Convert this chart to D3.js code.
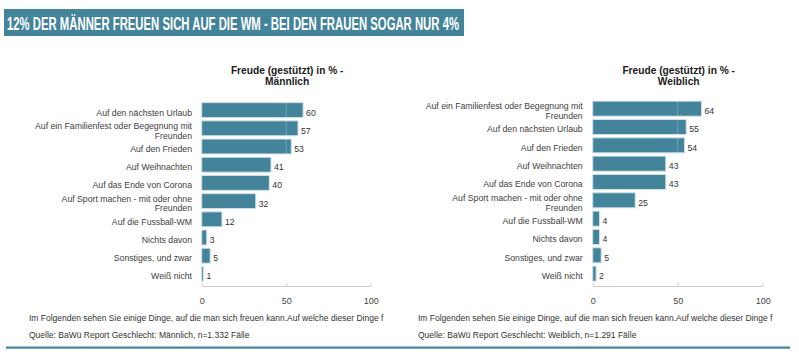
<!DOCTYPE html>
<html><head><meta charset="utf-8">
<script src="https://cdn.jsdelivr.net/npm/d3@7"></script>
<style>
html,body{margin:0;padding:0;background:#fff;}
svg{display:block;font-family:Arial,"Liberation Sans",sans-serif;}
</style></head>
<body>
<svg id="chart" width="799" height="356"></svg>
<script>
const pageTitle = "12% DER MÄNNER FREUEN SICH AUF DIE WM - BEI DEN FRAUEN SOGAR NUR 4%";

const maleTitle = ["Freude (gestützt) in % -", "Männlich"];
const maleCategories = ["Auf den nächsten Urlaub","Auf ein Familienfest oder Begegnung mit Freunden","Auf den Frieden","Auf Weihnachten","Auf das Ende von Corona","Auf Sport machen - mit oder ohne Freunden","Auf die Fussball-WM","Nichts davon","Sonstiges, und zwar","Weiß nicht"];
const maleValues = [60,57,53,41,40,32,12,3,5,1];
const maleSource = "Quelle: BaWü Report Geschlecht: Männlich, n=1.332 Fälle";

const femaleTitle = ["Freude (gestützt) in % -", "Weiblich"];
const femaleCategories = ["Auf ein Familienfest oder Begegnung mit Freunden","Auf den nächsten Urlaub","Auf den Frieden","Auf Weihnachten","Auf das Ende von Corona","Auf Sport machen - mit oder ohne Freunden","Auf die Fussball-WM","Nichts davon","Sonstiges, und zwar","Weiß nicht"];
const femaleValues = [64,55,54,43,43,25,4,4,5,2];
const femaleSource = "Quelle: BaWü Report Geschlecht: Weiblich, n=1.291 Fälle";

const tickValues = [0,50,100];
const questionText = "Im Folgenden sehen Sie einige Dinge, auf die man sich freuen kann.Auf welche dieser Dinge f";

const svg = d3.select("#chart");
const teal = "#44849a";

// Banner
svg.append("rect").attr("x",4).attr("y",9).attr("width",460).attr("height",27).attr("fill",teal);
svg.append("text").attr("x",7).attr("y",29.5)
  .attr("font-family","'Liberation Sans Narrow','Arial Narrow','Liberation Sans',Arial,sans-serif")
  .attr("font-weight","bold").attr("font-size",19).attr("fill","#fff")
  .attr("textLength",452).attr("lengthAdjust","spacingAndGlyphs")
  .text(pageTitle);

// bottom rule
svg.append("rect").attr("x",6).attr("y",346.5).attr("width",784).attr("height",2.2).attr("fill",teal);

function wrapLabel(textSel, str, maxW){
  const words = str.split(" ");
  let lines = [], cur = [];
  const tmp = textSel.append("tspan");
  words.forEach(w=>{
    cur.push(w);
    tmp.text(cur.join(" "));
    if (tmp.node().getComputedTextLength() > maxW && cur.length>1){
      cur.pop(); lines.push(cur.join(" ")); cur=[w];
    }
  });
  lines.push(cur.join(" "));
  tmp.remove();
  return lines;
}

function drawPanel(o){
  const g = svg.append("g");
  const x = d3.scaleLinear().domain([0,100]).range(o.xr);
  const y = d3.scaleBand().domain(o.cats).range(o.yr).paddingInner(0.18).paddingOuter(0.09);
  const cx = (o.xr[0]+o.xr[1])/2;

  // title
  o.title.forEach((s,i)=>g.append("text").attr("text-anchor","middle").attr("font-weight","bold")
    .attr("font-size",10.2).attr("fill","#1a1a1a")
    .attr("x",cx+1).attr("y",73.9+i*11).text(s));

  // bars
  g.selectAll("rect.bar").data(o.cats).join("rect").attr("class","bar")
    .attr("x",x(0)).attr("y",d=>y(d))
    .attr("width",(d,i)=>Math.max(0,x(o.vals[i])-x(0)))
    .attr("height",y.bandwidth())
    .attr("fill",teal).attr("stroke","#cfe2e9").attr("stroke-width",1);

  // faint grid line at 50
  g.append("line").attr("x1",x(50)).attr("x2",x(50)).attr("y1",o.yr[0]).attr("y2",o.axisY)
    .attr("stroke","#ffffff").attr("stroke-opacity",0.25).attr("stroke-width",1);

  // value labels
  g.selectAll("text.val").data(o.cats).join("text").attr("class","val")
    .attr("x",(d,i)=>x(o.vals[i])+3).attr("y",d=>y(d)+y.bandwidth()/2+5.5)
    .attr("font-size",8.7).attr("fill","#333").text((d,i)=>o.vals[i]);

  // category labels
  o.cats.forEach(c=>{
    const tx = g.append("text").attr("text-anchor","end").attr("font-size",8.7).attr("fill","#404040");
    const lines = wrapLabel(tx, c, 160);
    const yc = y(c)+y.bandwidth()/2+2.5;
    const lh = 9.4;
    const y0 = yc - (lines.length-1)*lh/2 + 3;
    lines.forEach((l,i)=>tx.append("tspan").attr("x",o.labelX).attr("y",y0+i*lh).text(l));
  });

  // axis
  const axis = d3.axisBottom(x).tickValues(tickValues).tickSize(-3).tickPadding(10).tickSizeOuter(0);
  const ag = g.append("g").attr("transform",`translate(0,${o.axisY})`).call(axis);
  ag.select(".domain").attr("stroke","#cccccc");
  ag.selectAll(".tick line").attr("stroke","#cccccc");
  ag.selectAll(".tick text").attr("font-size",9).attr("fill","#444").attr("font-family","Arial,'Liberation Sans',sans-serif").attr("dy","0.9em");

  // footer
  g.append("text").attr("x",o.footX).attr("y",321).attr("font-size",8.5).attr("fill","#333").text(questionText);
  g.append("text").attr("x",o.footX).attr("y",338).attr("font-size",8.5).attr("fill","#333").text(o.source);
}

drawPanel({id:"m", cats:maleCategories, vals:maleValues, title:maleTitle, source:maleSource,
  xr:[201.7,370.7], yr:[101,283], axisY:286, labelX:192, footX:29});
drawPanel({id:"f", cats:femaleCategories, vals:femaleValues, title:femaleTitle, source:femaleSource,
  xr:[592.7,762.7], yr:[99.5,282.8], axisY:286, labelX:582.7, footX:418});
</script>
</body></html>
